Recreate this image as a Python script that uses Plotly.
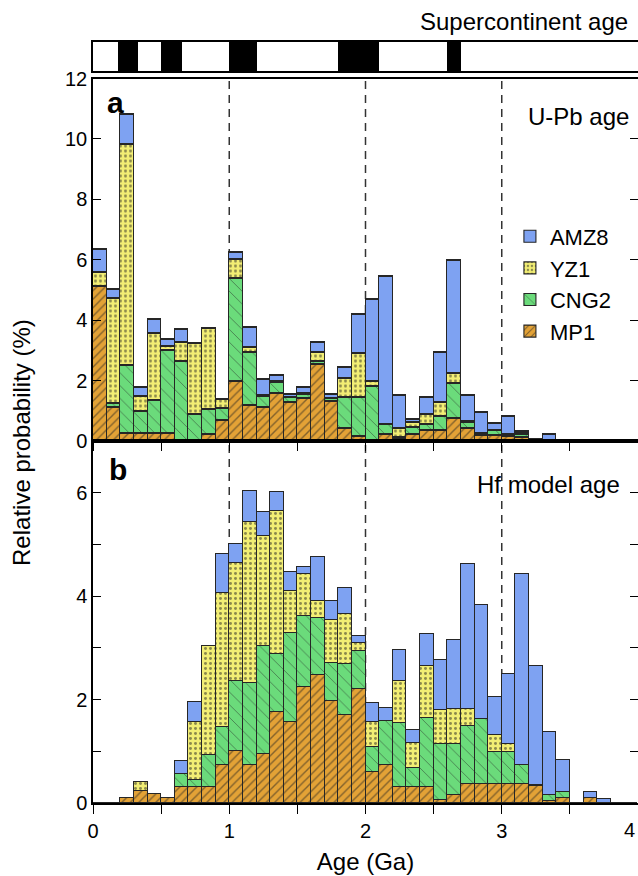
import plotly.graph_objects as go

# ---------------- data ----------------
age_ga = [0.05, 0.15, 0.25, 0.35, 0.45, 0.55, 0.65, 0.75, 0.85, 0.95,
          1.05, 1.15, 1.25, 1.35, 1.45, 1.55, 1.65, 1.75, 1.85, 1.95,
          2.05, 2.15, 2.25, 2.35, 2.45, 2.55, 2.65, 2.75, 2.85, 2.95,
          3.05, 3.15, 3.25, 3.35, 3.45, 3.55, 3.65, 3.75, 3.85, 3.95]

# panel a : U-Pb age (relative probability, %)
upb_mp1 = [5.12, 1.11, 0.26, 0.26, 0.26, 0.26, 0.03, 0.03, 0.21, 0.69,
           1.97, 1.17, 1.11, 1.58, 1.28, 1.41, 2.52, 1.31, 0.40, 0.14,
           0.03, 0.21, 0.09, 0.23, 0.34, 0.34, 0.76, 0.40, 0.17, 0.17,
           0.14, 0.12, 0, 0, 0, 0, 0, 0, 0, 0]
upb_cng2 = [0, 0.14, 2.24, 0.72, 1.08, 2.74, 2.60, 0.84, 0.82, 0.37,
            3.40, 1.77, 0.36, 0.37, 0.15, 0.13, 0.11, 0.08, 1.05, 1.29,
            1.77, 0.35, 0.03, 0.22, 0.22, 0.46, 1.15, 0.21, 0.06, 0.19,
            0.06, 0.10, 0, 0, 0, 0, 0, 0, 0, 0]
upb_yz1 = [0.45, 3.47, 7.30, 0.49, 2.21, 0.14, 0.62, 2.35, 2.71, 0.30,
           0.65, 0.17, 0.02, 0.02, 0.02, 0.02, 0.31, 0.02, 0.63, 1.46,
           0.17, 0, 0.28, 0.16, 0.33, 0.48, 0.31, 0.02, 0.02, 0,
           0, 0.02, 0, 0, 0, 0, 0, 0, 0, 0]
upb_amz8 = [0.77, 0.31, 1.00, 0.31, 0.47, 0.22, 0.45, 0, 0, 0,
            0.23, 0.64, 0.53, 0.21, 0.09, 0.20, 0.32, 0.13, 0.34, 1.29,
            2.71, 4.90, 1.10, 0.09, 0.54, 1.64, 3.74, 0.87, 0.68, 0.23,
            0.60, 0.08, 0.06, 0.21, 0, 0, 0, 0, 0, 0]

# panel b : Hf model age (relative probability, %)
hf_mp1 = [0, 0, 0.10, 0.23, 0.17, 0.09, 0.30, 0.30, 0.30, 0.73,
          1.01, 0.73, 0.94, 1.76, 1.56, 2.25, 2.48, 1.98, 1.70, 2.20,
          0.60, 0.73, 0.31, 0.31, 0.31, 0.05, 0.16, 0.37, 0.37, 0.37,
          0.37, 0.37, 0.32, 0.03, 0.09, 0, 0.09, 0, 0, 0]
hf_cng2 = [0, 0, 0, 0, 0, 0, 0.26, 0.14, 0.62, 0.74,
           1.35, 1.60, 2.09, 1.12, 1.73, 1.36, 1.10, 0.73, 0.98, 0.73,
           0.48, 0.86, 1.23, 0.37, 1.34, 1.09, 0.98, 1.12, 1.25, 0.62,
           0.62, 0.37, 0.02, 0.12, 0.12, 0, 0, 0, 0, 0]
hf_yz1 = [0, 0, 0, 0.17, 0, 0, 0, 1.12, 2.12, 2.60,
          2.28, 3.10, 2.13, 2.77, 0.80, 0.82, 0.32, 0.83, 0.98, 0.17,
          0.48, 0, 0.82, 0.49, 0.99, 0.66, 0.67, 0.32, 0, 0.32,
          0.15, 0, 0, 0, 0, 0, 0, 0, 0, 0]
hf_amz8 = [0, 0, 0, 0, 0, 0, 0.25, 0.39, 0, 0.75,
           0.37, 0.61, 0.47, 0.37, 0.38, 0.13, 0.86, 0.36, 0.50, 0.12,
           0.38, 0.24, 0.60, 0.25, 0.62, 0.97, 1.35, 2.82, 2.20, 0.74,
           1.36, 3.68, 2.30, 1.22, 0.63, 0, 0.13, 0.08, 0, 0]

# supercontinent age intervals (Ga)
supercontinent_start = [0.18, 0.50, 1.00, 1.80, 2.60]
supercontinent_end = [0.33, 0.65, 1.20, 2.10, 2.70]

dashed_ages = [1, 2, 3]

x_tick_vals = [0, 0.5, 1, 1.5, 2, 2.5, 3, 3.5, 4]
x_tick_text = ["0", "", "1", "", "2", "", "3", "", "4"]
upb_y_tick_vals = [0, 2, 4, 6, 8, 10, 12]
upb_y_tick_text = ["0", "2", "4", "6", "8", "10", "12"]
hf_y_tick_vals = [0, 1, 2, 3, 4, 5, 6]
hf_y_tick_text = ["0", "", "2", "", "4", "", "6"]

series_names = ["MP1", "CNG2", "YZ1", "AMZ8"]

# ---------------- styles ----------------
FONT = "Liberation Sans, Arial, Helvetica, sans-serif"
styles = {
    "MP1": dict(color="#E3A236", shape="/", size=6, solidity=0.24),
    "CNG2": dict(color="#6BDB7B", shape="\\", size=9, solidity=0.1),
    "YZ1": dict(color="#F2EE74", shape=".", size=5, solidity=0.28),
    "AMZ8": dict(color="#7EA2F2", shape="", size=8, solidity=0.2),
}

fig = go.Figure()

panels = [
    ("x", "y", [upb_mp1, upb_cng2, upb_yz1, upb_amz8], True),
    ("x2", "y2", [hf_mp1, hf_cng2, hf_yz1, hf_amz8], False),
]
for xa, ya, series, show in panels:
    for name, vals in zip(series_names, series):
        st = styles[name]
        fig.add_trace(go.Bar(
            x=age_ga, y=vals, width=0.1, name=name,
            xaxis=xa, yaxis=ya, showlegend=show,
            hoverinfo="skip",
            marker=dict(
                color=st["color"],
                line=dict(color="#262626", width=1.1),
                pattern=dict(shape=st["shape"], fgcolor="#222222",
                             size=st["size"], solidity=st["solidity"],
                             fillmode="overlay"),
            ),
        ))

# supercontinent bar
fig.add_trace(go.Bar(
    y=[0] * len(supercontinent_start),
    x=[e - s for s, e in zip(supercontinent_start, supercontinent_end)],
    base=supercontinent_start, orientation="h", width=1,
    marker=dict(color="black", line=dict(width=0)),
    xaxis="x3", yaxis="y3", showlegend=False, hoverinfo="skip",
))

# dashed reference lines
PANEL_A_TOP = 0.9520
SPLIT = 0.4757
for a in dashed_ages:
    fig.add_shape(type="line", xref="x", yref="paper", x0=a, x1=a,
                  y0=0, y1=PANEL_A_TOP, layer="below",
                  line=dict(color="#333333", width=1.5, dash="8px,6px"))

axis_common = dict(showgrid=False, zeroline=False, showline=True,
                   linecolor="black", linewidth=1.5, tickcolor="black",
                   tickwidth=1.2, automargin=False,
                   tickfont=dict(size=20, family=FONT, color="black"))

# the last x tick label sits on the window edge: draw it right-aligned instead
axis_tick_text = x_tick_text[:-1] + [""]

fig.update_layout(
    width=638, height=876,
    margin=dict(l=93, r=0, t=42, b=73),
    paper_bgcolor="white", plot_bgcolor="white",
    barmode="stack", bargap=0,
    font=dict(family=FONT, size=20, color="black"),
    xaxis=dict(domain=[0, 1], anchor="y", range=[0, 4], tickvals=x_tick_vals,
               showticklabels=False, ticks="outside", ticklen=8, mirror=True,
               **axis_common),
    xaxis4=dict(overlaying="x", anchor="y", side="top", range=[0, 4],
                tickvals=x_tick_vals, showticklabels=False, ticks="inside",
                ticklen=8, showgrid=False, zeroline=False, showline=False,
                tickcolor="black", tickwidth=1.2, automargin=False),
    yaxis=dict(domain=[SPLIT, PANEL_A_TOP], anchor="x", range=[0, 12],
               tickvals=upb_y_tick_vals, ticktext=upb_y_tick_text,
               ticks="inside", ticklen=8, mirror="ticks", **axis_common),
    xaxis2=dict(domain=[0, 1], anchor="y2", range=[0, 4], tickvals=x_tick_vals,
                ticktext=axis_tick_text, ticks="outside", ticklen=9, mirror=True,
                title=dict(text="Age (Ga)", font=dict(size=24, family=FONT),
                           standoff=12),
                **axis_common),
    yaxis2=dict(domain=[0, SPLIT], anchor="x2", range=[0, 7.0],
                tickvals=hf_y_tick_vals, ticktext=hf_y_tick_text,
                ticks="inside", ticklen=8, mirror="ticks", **axis_common),
    xaxis3=dict(domain=[0, 1], anchor="y3", range=[0, 4], showticklabels=False,
                ticks="", showgrid=False, zeroline=False, showline=True,
                linecolor="black", linewidth=1.5, mirror=True, automargin=False),
    yaxis3=dict(domain=[0.9619, 1.0], anchor="x3", range=[-0.5, 0.5],
                showticklabels=False, ticks="", showgrid=False, zeroline=False,
                showline=True, linecolor="black", linewidth=1.5, mirror=True,
                automargin=False),
    legend=dict(x=0.765, y=0.772, xanchor="left", yanchor="top",
                traceorder="reversed", bgcolor="rgba(0,0,0,0)",
                font=dict(size=22, family=FONT)),
    showlegend=True,
)

annotations = [
    dict(text="Relative probability (%)", textangle=-90, xref="paper",
         yref="paper", x=-0.1303, y=0.4744, xanchor="center",
         yanchor="middle", font=dict(size=24)),
    dict(text="Supercontinent age", xref="paper", yref="paper", x=0.9853,
         y=1.0263, xanchor="right", yanchor="middle", font=dict(size=24)),
    dict(text="<b>a</b>", xref="x domain", yref="y domain", x=0.042, y=0.935,
         xanchor="center", yanchor="middle", font=dict(size=30)),
    dict(text="U-Pb age", xref="x domain", yref="y domain", x=0.987, y=0.894,
         xanchor="right", yanchor="middle", font=dict(size=24)),
    dict(text="<b>b</b>", xref="x2 domain", yref="y2 domain", x=0.046, y=0.92,
         xanchor="center", yanchor="middle", font=dict(size=30)),
    dict(text="Hf model age", xref="x2 domain", yref="y2 domain", x=0.9706,
         y=0.881, xanchor="right", yanchor="middle", font=dict(size=24)),
    dict(text=x_tick_text[-1], xref="x2", yref="paper", x=x_tick_vals[-1],
         y=-0.0355, xanchor="right", yanchor="middle", xshift=-1,
         font=dict(size=20)),
]
for an in annotations:
    an["showarrow"] = False
    an["font"]["family"] = FONT
    an["font"]["color"] = "black"
    fig.add_annotation(**an)

fig.write_html("out.html",
               config={"displayModeBar": False},
               post_script="document.body.style.margin='0px';")
